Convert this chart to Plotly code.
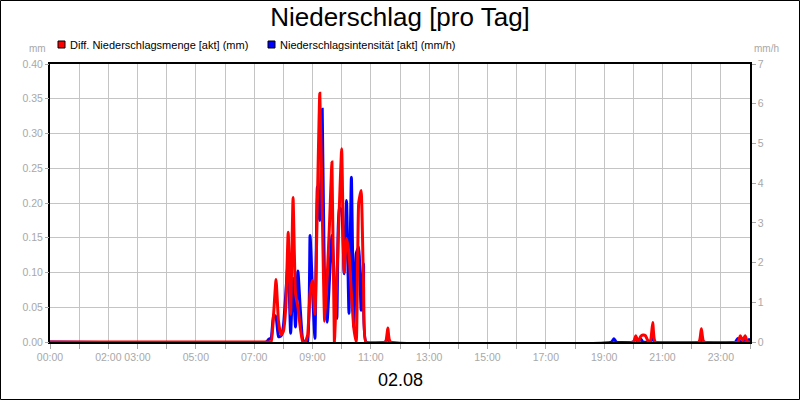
import plotly.graph_objects as go

# ---- data ----
red_times = ["00:00", "07:30", "07:35", "07:40", "07:45", "07:50", "07:55", "08:00", "08:05", "08:10",
             "08:15", "08:20", "08:25", "08:30", "08:35", "08:40", "08:45", "08:50", "08:55", "09:00",
             "09:05", "09:10", "09:15", "09:20", "09:25", "09:30", "09:35", "09:40", "09:45", "09:50",
             "09:55", "10:00", "10:05", "10:10", "10:15", "10:20", "10:25", "10:30", "10:35", "10:40",
             "10:45", "10:50", "11:30", "11:35", "11:40", "20:00", "20:05", "20:10", "20:15", "20:20",
             "20:25", "20:30", "20:35", "20:40", "20:45", "22:15", "22:20", "22:25", "23:35", "23:40",
             "23:45", "23:50", "23:55", "24:00"]
red_values = [0, 0, 0, 0.04, 0.09, 0.03, 0.01, 0.015, 0.05, 0.158,
              0.04, 0.208, 0.07, 0.05, 0.02, 0, 0, 0.01, 0.07, 0.089,
              0.04, 0.20, 0.358, 0.19, 0.03, 0.09, 0.17, 0.259, 0, 0.09,
              0.19, 0.278, 0.10, 0.149, 0.128, 0.07, 0.02, 0, 0.20, 0.218,
              0.08, 0, 0, 0.02, 0, 0, 0.009, 0, 0.008, 0.01,
              0.009, 0.002, 0, 0.028, 0, 0, 0.019, 0, 0, 0.009,
              0.002, 0.009, 0, 0]

blue_times = ["00:00", "07:25", "07:30", "07:35", "07:40", "07:45", "07:50", "07:55", "08:00", "08:05",
              "08:10", "08:15", "08:20", "08:25", "08:30", "08:35", "08:40", "08:45", "08:50", "08:55",
              "09:00", "09:05", "09:10", "09:15", "09:20", "09:25", "09:30", "09:35", "09:40", "09:45",
              "09:50", "09:55", "10:00", "10:05", "10:10", "10:15", "10:20", "10:25", "10:30", "10:35",
              "10:40", "10:45", "10:50", "11:30", "11:35", "11:40", "19:15", "19:20", "19:25", "20:00",
              "20:05", "20:10", "20:15", "20:20", "20:35", "20:40", "20:45", "22:15", "22:20", "22:25",
              "23:30", "23:35", "23:40", "23:45", "23:50", "23:55", "24:00"]
blue_values = [0, 0, 0.07, 0.1, 0.68, 0.63, 0.13, 0.15, 0.38, 1.2,
               2.06, 0.22, 1.6, 0.38, 1.79, 0.8, 0.05, 0, 0, 2.68,
               1.3, 0.09, 3.9, 3.06, 5.86, 1.2, 0.5, 1.6, 2.68, 1.5,
               0.59, 3.39, 3.31, 1.72, 3.56, 0.72, 4.15, 0.38, 2.23, 2.39,
               0.8, 1.97, 0, 0, 0.09, 0, 0, 0.08, 0, 0,
               0.09, 0, 0.08, 0, 0, 0.09, 0, 0, 0.07, 0,
               0, 0.09, 0, 0, 0.08, 0, 0.09]

hour_labels = ["00:00", "", "02:00", "03:00", "", "05:00", "", "07:00", "", "09:00", "", "11:00", "",
               "13:00", "", "15:00", "", "17:00", "", "19:00", "", "21:00", "", "23:00", ""]
left_ticks = [0, 0.05, 0.10, 0.15, 0.20, 0.25, 0.30, 0.35, 0.40]
right_ticks = [0, 1, 2, 3, 4, 5, 6, 7]

red_name = "Diff. Niederschlagsmenge [akt] (mm)"
blue_name = "Niederschlagsintensität [akt] (mm/h)"


def to_hours(t):
    h, m = t.split(":")
    return int(h) + int(m) / 60.0


red_x = [to_hours(t) for t in red_times]
blue_x = [to_hours(t) for t in blue_times]

FONT = "Liberation Sans, Arial, sans-serif"
GRAY = "#a8a8a8"
GRID = "#c4c4c4"
TICKSIZE = 10.5

L, R, T, B = 50, 50, 64, 58
W, H = 800, 400
pw, ph = W - L - R, H - T - B


def px_to_paper_x(px):
    return (px - L) / pw


def px_to_paper_y(py):
    return (H - B - py) / ph


fig = go.Figure()
# blue on the primary (right-side) axis so that red (overlay) is drawn above it
fig.add_trace(go.Scatter(x=blue_x, y=blue_values, yaxis="y", mode="lines", name=blue_name,
                         line=dict(color="#0000ff", width=3, shape="spline", smoothing=0.4),
                         showlegend=False, hoverinfo="skip"))
fig.add_trace(go.Scatter(x=red_x, y=red_values, yaxis="y2", mode="lines", name=red_name,
                         line=dict(color="#ff0000", width=3, shape="spline", smoothing=0.4),
                         showlegend=False, hoverinfo="skip"))

legend_items = [(red_name, "#ff0000", 58), (blue_name, "#0000ff", 268)]
shapes = [
    dict(type="rect", xref="paper", yref="paper",
         x0=px_to_paper_x(0.5), x1=px_to_paper_x(799.5),
         y0=px_to_paper_y(399.5), y1=px_to_paper_y(0.5),
         line=dict(color="#000000", width=1), fillcolor="rgba(0,0,0,0)", layer="above"),
]
annotations = [
    dict(text="mm", xref="paper", yref="paper", x=px_to_paper_x(48), y=px_to_paper_y(49),
         xanchor="right", yanchor="middle", showarrow=False,
         font=dict(family=FONT, size=10, color=GRAY)),
    dict(text="mm/h", xref="paper", yref="paper", x=px_to_paper_x(752), y=px_to_paper_y(49),
         xanchor="left", yanchor="middle", showarrow=False,
         font=dict(family=FONT, size=10, color=GRAY)),
    dict(text="02.08", xref="paper", yref="paper", x=0.5, y=px_to_paper_y(380),
         xanchor="center", yanchor="middle", showarrow=False,
         font=dict(family=FONT, size=18, color="#000000")),
]
for name, color, px in legend_items:
    shapes.append(dict(type="rect", xref="paper", yref="paper",
                       x0=px_to_paper_x(px), x1=px_to_paper_x(px + 7),
                       y0=px_to_paper_y(48), y1=px_to_paper_y(41),
                       line=dict(color="#000000", width=1), fillcolor=color))
    annotations.append(dict(text=name, xref="paper", yref="paper", x=px_to_paper_x(px + 10),
                            y=px_to_paper_y(44.5), xanchor="left", yanchor="middle", showarrow=False,
                            font=dict(family=FONT, size=11, color="#000000")))

fig.update_layout(
    width=W, height=H,
    margin=dict(l=L, r=R, t=T, b=B, pad=0),
    paper_bgcolor="white", plot_bgcolor="white",
    font=dict(family=FONT, size=11, color="#000000"),
    title=dict(text="Niederschlag [pro Tag]", x=0.5, xanchor="center", y=1 - 17 / H, yanchor="middle",
               font=dict(family=FONT, size=26, color="#000000")),
    showlegend=False,
    xaxis=dict(range=[0, 24], tickmode="array", tickvals=list(range(25)), ticktext=hour_labels,
               tickangle=0, automargin=False,
               showgrid=True, gridcolor=GRID, gridwidth=1, zeroline=False,
               showline=True, linecolor="#000000", linewidth=1.5, mirror=True,
               ticks="outside", ticklen=5, tickcolor=GRAY,
               tickfont=dict(family=FONT, size=TICKSIZE, color=GRAY)),
    # primary axis: mm/h on the right
    yaxis=dict(range=[0, 7], side="right", tickmode="array", tickvals=right_ticks,
               showgrid=False, zeroline=False, automargin=False,
               showline=True, linecolor="#000000", linewidth=1.5, mirror=True,
               ticks="outside", ticklen=4, tickcolor=GRAY,
               tickfont=dict(family=FONT, size=TICKSIZE, color=GRAY)),
    # overlay axis: mm on the left, carries the grid
    yaxis2=dict(range=[0, 0.4], overlaying="y", side="left", tickmode="array", tickvals=left_ticks,
                ticktext=[f"{v:.2f}" for v in left_ticks], automargin=False,
                showgrid=True, gridcolor=GRID, gridwidth=1, zeroline=False,
                showline=False,
                ticks="outside", ticklen=4, tickcolor=GRAY,
                tickfont=dict(family=FONT, size=TICKSIZE, color=GRAY)),
    annotations=annotations,
    shapes=shapes,
)

fig.write_html("out.html", config={"displayModeBar": False},
               post_script="document.body.style.margin='0';document.body.style.overflow='hidden';")
